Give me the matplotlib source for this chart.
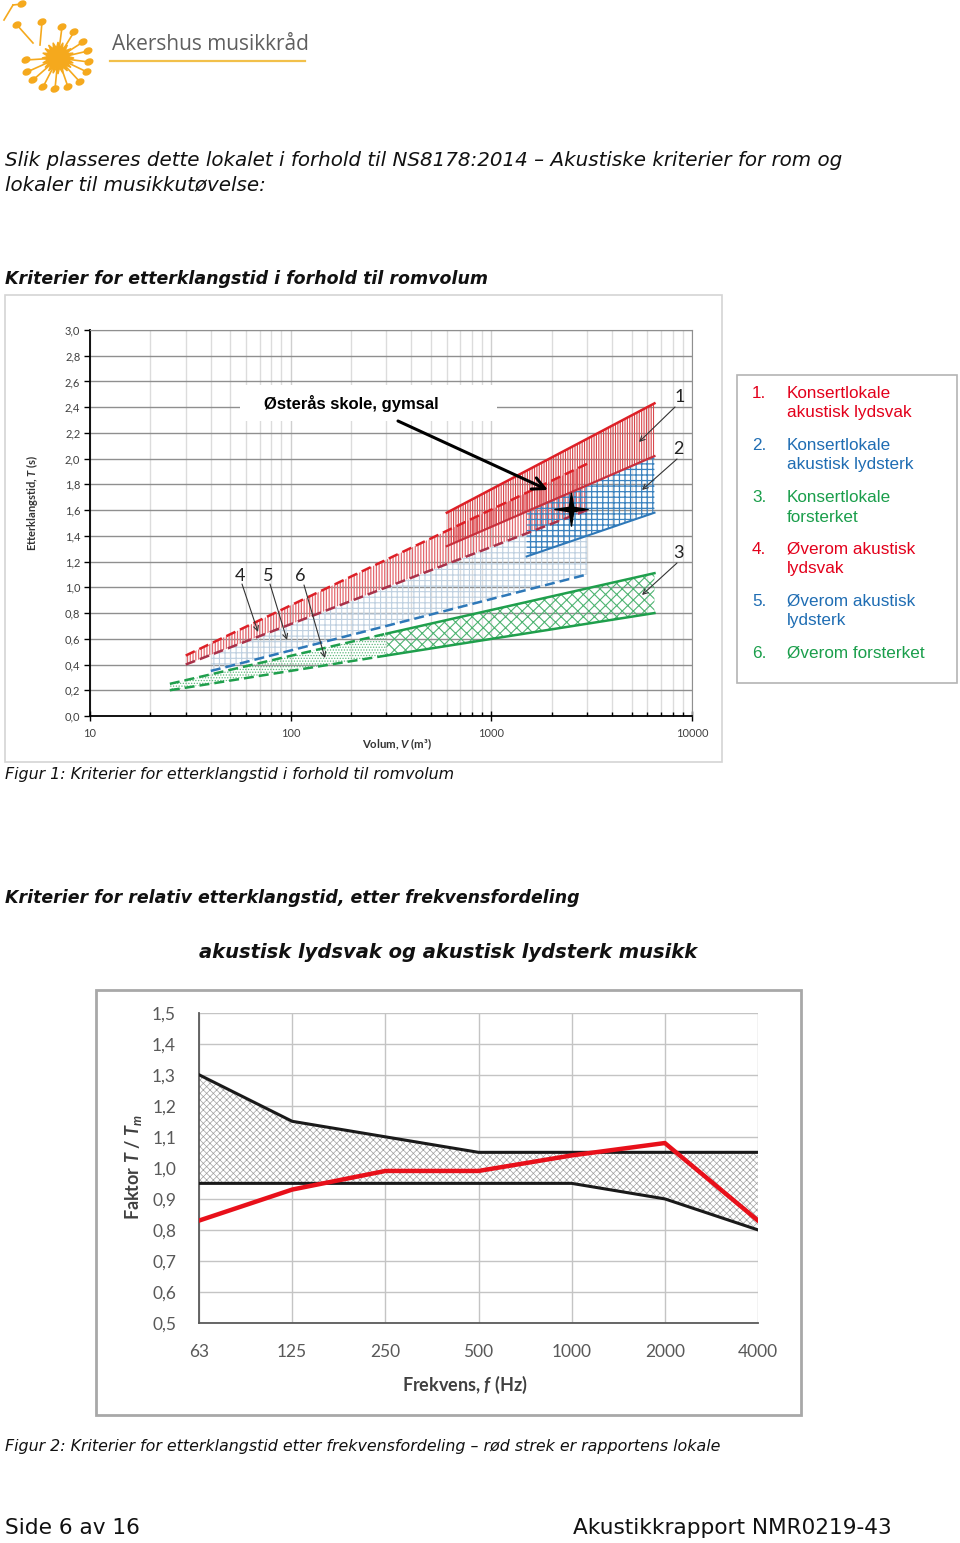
import numpy as np
import matplotlib
matplotlib.use('Agg')
import matplotlib.pyplot as plt
from matplotlib.patches import Rectangle, Ellipse, Polygon
from matplotlib.path import Path
from matplotlib.ticker import FixedLocator, NullFormatter

W, H = 960, 1543

plt.rcParams['mathtext.fontset'] = 'custom'
plt.rcParams['mathtext.it'] = 'Lato:italic:bold'
plt.rcParams['mathtext.rm'] = 'Lato:bold'
plt.rcParams['mathtext.bf'] = 'Lato:bold'

# --- Figur 1: etterklangstid mot romvolum (endepunkter lest av bildet) ---
V_kons_lydsvak = [600, 6500]
T_kons_lydsvak_hi = [1.58, 2.43]
T_kons_lydsvak_lo = [1.32, 2.02]

V_kons_lydsterk = [1500, 6500]
T_kons_lydsterk_hi = [1.60, 2.02]
T_kons_lydsterk_lo = [1.24, 1.58]

V_kons_forst = [300, 6500]
T_kons_forst_hi = [0.64, 1.11]
T_kons_forst_lo = [0.47, 0.80]

V_ove_lydsvak = [30, 3000]
T_ove_lydsvak_hi = [0.47, 1.96]
T_ove_lydsvak_lo = [0.40, 1.60]

V_ove_lydsterk = [40, 3000]
T_ove_lydsterk_hi = [0.47, 1.60]
T_ove_lydsterk_lo = [0.35, 1.10]

V_ove_forst = [25, 300]
T_ove_forst_hi = [0.25, 0.64]
T_ove_forst_lo = [0.20, 0.47]

V_lokale = [2500]
T_lokale = [1.61]

y_ticks1 = np.arange(0, 3.01, 0.2)
x_ticks1 = [10, 100, 1000, 10000]

legend_items = [
    ('1.', ['Konsertlokale', 'akustisk lydsvak'], '#e3001b'),
    ('2.', ['Konsertlokale', 'akustisk lydsterk'], '#1f6db3'),
    ('3.', ['Konsertlokale', 'forsterket'], '#1a9e4b'),
    ('4.', ['Øverom akustisk', 'lydsvak'], '#e3001b'),
    ('5.', ['Øverom akustisk', 'lydsterk'], '#1f6db3'),
    ('6.', ['Øverom forsterket'], '#1a9e4b'),
]

# --- Figur 2: relativ etterklangstid ---
freqs = ['63', '125', '250', '500', '1000', '2000', '4000']
faktor_maks = [1.30, 1.15, 1.10, 1.05, 1.05, 1.05, 1.05]
faktor_min = [0.95, 0.95, 0.95, 0.95, 0.95, 0.90, 0.80]
faktor_lokale = [0.83, 0.93, 0.99, 0.99, 1.04, 1.08, 0.83]
y_ticks2 = np.arange(0.5, 1.51, 0.1)


fig = plt.figure(figsize=(9.6, 15.43), dpi=100)


def fx(x):
    return x / W


def fy(y):
    return 1 - y / H


def box(x0, y0, x1, y1, ec, lw=1.0):
    fig.add_artist(Rectangle((fx(x0), fy(y1)), fx(x1) - fx(x0), fy(y0) - fy(y1),
                             transform=fig.transFigure, fill=False, ec=ec, lw=lw))


def txt(x, y, s, **kw):
    kw.setdefault('va', 'center')
    return fig.text(fx(x), fy(y), s, **kw)


# logo
sun = '#f5a91d'
lg = fig.add_axes([0, fy(100), fx(110), 100 / H])
lg.set_xlim(0, 110)
lg.set_ylim(100, 0)
lg.axis('off')
cx, cy = 58, 58
ang = np.linspace(0, 2 * np.pi, 41)[:-1]
rad = np.where(np.arange(40) % 2 == 0, 16, 10)
lg.add_patch(Polygon(np.c_[cx + rad * np.cos(ang), cy + rad * np.sin(ang)], color=sun))
heads = [(62, 27), (74, 32), (83, 42), (88, 51), (89, 62), (87, 72), (80, 82),
         (68, 87), (55, 89), (43, 87), (33, 80), (27, 72), (26, 60)]
for hx, hy in heads:
    lg.plot([cx, hx], [cy, hy], color=sun, lw=1.2)
    lg.add_patch(Ellipse((hx, hy), 8, 5.5, angle=-25, color=sun))
for (hx, hy), (sx, sy) in [((42, 22), (40, 45)), ((17, 25), (33, 43)), ((22, 4), (13, 5))]:
    lg.plot([hx, sx], [hy, sy], color=sun, lw=1.2)
    lg.add_patch(Ellipse((hx, hy), 8, 5.5, angle=-25, color=sun))
lg.plot([4, 13], [20, 5], color=sun, lw=1.2)

txt(112, 44, 'Akershus musikkråd', fontsize=15, family='Open Sans', color='#5f5f5f')
fig.add_artist(plt.Line2D([fx(110), fx(305)], [fy(61), fy(61)], color='#f2c04a', lw=1.6,
                          transform=fig.transFigure))

# headings
txt(5, 161, 'Slik plasseres dette lokalet i forhold til NS8178:2014 – Akustiske kriterier for rom og',
    fontsize=14.3, style='italic', color='#111111')
txt(5, 185, 'lokaler til musikkutøvelse:', fontsize=14.3, style='italic', color='#111111')
txt(5, 279, 'Kriterier for etterklangstid i forhold til romvolum', fontsize=12.5,
    style='italic', weight='bold', color='#111111')
txt(5, 775, 'Figur 1: Kriterier for etterklangstid i forhold til romvolum', fontsize=11.4,
    style='italic', color='#111111')
txt(5, 898, 'Kriterier for relativ etterklangstid, etter frekvensfordeling', fontsize=12.5,
    style='italic', weight='bold', color='#111111')
txt(448, 952, 'akustisk lydsvak og akustisk lydsterk musikk', fontsize=14, ha='center',
    style='italic', weight='bold', color='#111111')
txt(5, 1447, 'Figur 2: Kriterier for etterklangstid etter frekvensfordeling – rød strek er rapportens lokale',
    fontsize=11.4, style='italic', color='#111111')
txt(5, 1528, 'Side 6 av 16', fontsize=15.6, color='#111111')
txt(892, 1528, 'Akustikkrapport NMR0219-43', fontsize=15.6, ha='right', color='#111111')

# ---------------- figur 1 ----------------
box(5, 295, 722, 762, '#d4d4d4', 1.2)
ax1 = fig.add_axes([fx(90), fy(716), fx(692) - fx(90), (716 - 330) / H])
ax1.set_xscale('log')
ax1.set_xlim(10, 10000)
ax1.set_ylim(0, 3.0)
ax1.xaxis.set_major_locator(FixedLocator(x_ticks1))
ax1.set_xticklabels([str(v) for v in x_ticks1])
ax1.xaxis.set_minor_locator(FixedLocator([m * d for d in [10, 100, 1000] for m in range(2, 10)]))
ax1.xaxis.set_minor_formatter(NullFormatter())
ax1.set_yticks(y_ticks1)
ax1.set_yticklabels([f'{v:.1f}'.replace('.', ',') for v in y_ticks1])
ax1.grid(which='minor', axis='x', color='#dcdcdc', lw=1)
ax1.grid(which='major', axis='x', color='#cfcfcf', lw=1)
ax1.grid(which='major', axis='y', color='#8f8f8f', lw=1)
for s in ['left', 'bottom']:
    ax1.spines[s].set_color('black')
    ax1.spines[s].set_linewidth(1.3)
for s in ['top', 'right']:
    ax1.spines[s].set_color('#8f8f8f')
ax1.tick_params(axis='y', length=4, width=1, pad=3, labelsize=8, labelcolor='#404040')
ax1.tick_params(axis='x', which='major', direction='inout', length=7, width=1, pad=5,
                labelsize=8, labelcolor='#404040')
ax1.tick_params(axis='x', which='minor', direction='in', length=3, width=1)
for lab in ax1.get_xticklabels() + ax1.get_yticklabels():
    lab.set_family('Lato')


def band(V, lo, hi, color, hatch, hlw, z):
    c = ax1.fill_between(V, lo, hi, facecolor='none', edgecolor=color, hatch=hatch,
                         linewidth=0, zorder=z)
    if hasattr(c, 'set_hatch_linewidth'):
        c.set_hatch_linewidth(hlw)
    return c


red, maroon, blue, green = '#dd2027', '#a8324a', '#2e78b8', '#1f9f4c'
band(V_ove_lydsterk, T_ove_lydsterk_lo, T_ove_lydsterk_hi, '#bfd0e0', '+++', 0.8, 2)
band(V_ove_forst, T_ove_forst_lo, T_ove_forst_hi, '#5fb97c', '......', 0.6, 2)
band(V_ove_lydsvak, T_ove_lydsvak_lo, T_ove_lydsvak_hi, '#e46a70', '||||||', 0.9, 2)
band(V_kons_forst, T_kons_forst_lo, T_kons_forst_hi, '#4fb472', 'xxx', 0.8, 3)
band(V_kons_lydsterk, T_kons_lydsterk_lo, T_kons_lydsterk_hi, '#3a82bf', '+++', 0.9, 3)
band(V_kons_lydsvak, T_kons_lydsvak_lo, T_kons_lydsvak_hi, '#d9474c', '|||||||', 0.8, 3)

dash = (0, (4, 2))
ax1.plot(V_ove_forst, T_ove_forst_hi, color=green, lw=1.8, ls=dash, zorder=4)
ax1.plot(V_ove_forst, T_ove_forst_lo, color=green, lw=1.8, ls=dash, zorder=4)
ax1.plot(V_ove_lydsterk, T_ove_lydsterk_lo, color=blue, lw=1.8, ls=dash, zorder=4)
ax1.plot(V_ove_lydsvak, T_ove_lydsvak_hi, color=red, lw=1.8, ls=dash, zorder=4)
ax1.plot(V_ove_lydsvak, T_ove_lydsvak_lo, color=maroon, lw=1.8, ls=dash, zorder=4)
ax1.plot(V_kons_forst, T_kons_forst_hi, color=green, lw=1.8, zorder=4)
ax1.plot(V_kons_forst, T_kons_forst_lo, color=green, lw=1.8, zorder=4)
ax1.plot(V_kons_lydsterk, T_kons_lydsterk_lo, color=blue, lw=1.5, zorder=4)
ax1.plot(V_kons_lydsvak, T_kons_lydsvak_lo, color='#c8303d', lw=1.6, zorder=4)
ax1.plot(V_kons_lydsvak, T_kons_lydsvak_hi, color=red, lw=1.8, zorder=4)

star = Path([(0, 1), (0.13, 0.13), (1, 0), (0.13, -0.13), (0, -1), (-0.13, -0.13),
             (-1, 0), (-0.13, 0.13), (0, 1)])
ax1.plot(V_lokale, T_lokale, marker=star, ms=24, color='black', ls='none', zorder=7)

# label for lokalet
ax1.add_patch(Rectangle((fx(240), fy(421)), fx(497) - fx(240), (421 - 385) / H,
                        transform=fig.transFigure, facecolor='white', edgecolor='none',
                        zorder=5, clip_on=False))
ax1.text(fx(351), fy(404), 'Østerås skole, gymsal', transform=fig.transFigure,
         ha='center', va='center', fontsize=12, weight='bold', family='Liberation Sans',
         zorder=6)
ax1.annotate('', xy=(548, H - 490), xytext=(398, H - 421), xycoords='figure pixels',
             textcoords='figure pixels', annotation_clip=False, zorder=6,
             arrowprops=dict(arrowstyle='->', lw=2.2, color='black', mutation_scale=22,
                             shrinkA=0, shrinkB=0))

num_labels = [('1', (680, 397), (675, 407), (639, 442)),
              ('2', (678, 449), (677, 459), (642, 490)),
              ('3', (678, 553), (677, 563), (642, 595)),
              ('4', (240, 576), (242, 584), (258, 632)),
              ('5', (268, 576), (270, 584), (287, 640)),
              ('6', (300, 576), (304, 585), (325, 658))]
for s, (tx, ty), (ax_, ay), (bx, by) in num_labels:
    ax1.text(fx(tx), fy(ty), s, transform=fig.transFigure, ha='center', va='center',
             fontsize=13, family='Lato', color='#222222', zorder=6)
    ax1.annotate('', xy=(bx, H - by), xytext=(ax_, H - ay), xycoords='figure pixels',
                 textcoords='figure pixels', annotation_clip=False, zorder=6,
                 arrowprops=dict(arrowstyle='->', lw=0.8, color='#333333',
                                 mutation_scale=9, shrinkA=0, shrinkB=0))

txt(32, 503, r'Etterklangstid, $T$ (s)', rotation=90, ha='center', fontsize=8,
    weight='bold', family='Lato', color='#333333')
txt(397, 744, r'Volum, $V$ (m³)', ha='center', fontsize=8.2, weight='bold', family='Lato',
    color='#333333')

# legend box
box(737, 375, 957, 683, '#b4b4b4', 1.2)
ly = 393
for num, lines, col in legend_items:
    txt(752, ly, num, fontsize=12.3, family='Liberation Sans', color=col)
    for i, ln in enumerate(lines):
        txt(787, ly + 20 * i, ln, fontsize=12.3, family='Liberation Sans', color=col)
    ly += 52

# ---------------- figur 2 ----------------
box(96, 990, 801, 1415, '#a8a8a8', 2)
ax2 = fig.add_axes([fx(199), fy(1323), fx(758) - fx(199), (1323 - 1012.7) / H])
idx = np.arange(len(freqs))
ax2.set_xlim(0, len(freqs) - 1)
ax2.set_ylim(0.5, 1.5)
ax2.set_xticks(idx)
ax2.set_xticklabels(freqs)
ax2.set_yticks(y_ticks2)
ax2.set_yticklabels([f'{v:.1f}'.replace('.', ',') for v in y_ticks2])
ax2.grid(color='#c4c4c4', lw=1)
ax2.set_axisbelow(True)
for s in ['top', 'right']:
    ax2.spines[s].set_visible(False)
for s in ['left', 'bottom']:
    ax2.spines[s].set_color('#5a5a5a')
    ax2.spines[s].set_linewidth(1.3)
ax2.tick_params(length=0, labelsize=12.5, labelcolor='#595959')
ax2.tick_params(axis='y', pad=16.5)
ax2.tick_params(axis='x', pad=15)
for lab in ax2.get_xticklabels() + ax2.get_yticklabels():
    lab.set_family('Lato')

c = ax2.fill_between(idx, faktor_min, faktor_maks, facecolor='white', edgecolor='#a0a0a0',
                     hatch='xxxxx', linewidth=0, zorder=2)
if hasattr(c, 'set_hatch_linewidth'):
    c.set_hatch_linewidth(0.5)
ax2.plot(idx, faktor_maks, color='#1a1a1a', lw=2.2, zorder=3)
ax2.plot(idx, faktor_min, color='#1a1a1a', lw=2.2, zorder=3)
ax2.plot(idx, faktor_lokale, color='#e8101a', lw=3.2, zorder=4)

txt(133, 1167, r'Faktor $T$ / $T_m$', rotation=90, ha='center', fontsize=13,
    weight='bold', family='Lato', color='#404040')
txt(465, 1385, r'Frekvens, $f$ (Hz)', ha='center', fontsize=13, weight='bold',
    family='Lato', color='#404040')

fig.savefig('out.png', dpi=100)
